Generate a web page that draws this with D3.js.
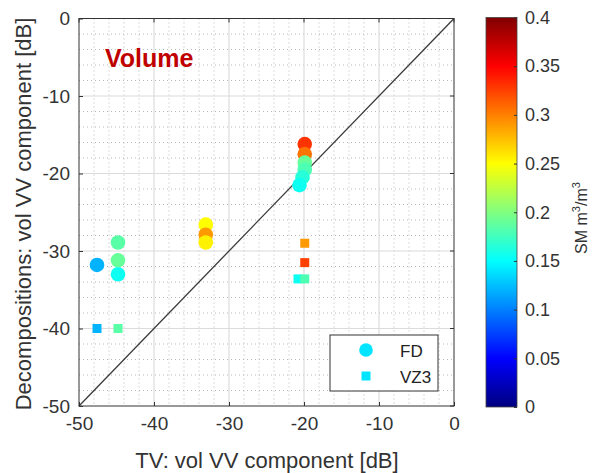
<!DOCTYPE html>
<html>
<head>
<meta charset="utf-8">
<script src="https://cdn.jsdelivr.net/npm/d3@7"></script>
<style>
  html, body { margin: 0; padding: 0; background: #fff; }
  svg { display: block; font-family: "Liberation Sans", Arial, sans-serif; }
</style>
</head>
<body>
<svg id="chart" width="596" height="473"></svg>
<script>
// FD decomposition: TV volume component vs decomposition volume component, coloured by soil moisture
const fdTV  = [-47.6, -44.8, -44.8, -44.8, -33.1, -33.1, -33.1, -19.9, -19.9, -19.9, -19.9, -20.2, -20.6];
const fdDec = [-31.8, -28.9, -31.2, -33.0, -26.6, -27.9, -28.9, -16.2, -17.5, -18.6, -19.5, -20.5, -21.5];
const fdSM  = [0.12, 0.185, 0.19, 0.155, 0.25, 0.29, 0.255, 0.33, 0.305, 0.19, 0.18, 0.165, 0.155];

// VZ3 decomposition
const vzTV  = [-47.6, -44.8, -19.9, -19.9, -20.8, -19.9];
const vzDec = [-40.0, -40.0, -29.0, -31.5, -33.6, -33.6];
const vzSM  = [0.12, 0.185, 0.29, 0.325, 0.155, 0.18];

const axisTicks = [-50, -40, -30, -20, -10, 0];
const axisTickLabels = ["-50", "-40", "-30", "-20", "-10", "0"];
const cbTicks = [0, 0.05, 0.1, 0.15, 0.2, 0.25, 0.3, 0.35, 0.4];
const cbTickLabels = ["0", "0.05", "0.1", "0.15", "0.2", "0.25", "0.3", "0.35", "0.4"];

// MATLAB-style jet colormap
function jet(t) {
  t = Math.max(0, Math.min(1, t));
  const r = Math.max(0, Math.min(1, 1.5 - Math.abs(4 * t - 3)));
  const g = Math.max(0, Math.min(1, 1.5 - Math.abs(4 * t - 2)));
  const b = Math.max(0, Math.min(1, 1.5 - Math.abs(4 * t - 1)));
  return d3.rgb(r * 255, g * 255, b * 255).toString();
}

const svg = d3.select("#chart");
const L = 79, R = 454, T = 18.5, B = 406;
const x = d3.scaleLinear().domain([-50, 0]).range([L, R]);
const y = d3.scaleLinear().domain([-50, 0]).range([B, T]);
const smScale = d3.scaleLinear().domain([0, 0.4]).range([0, 1]);
const color = v => jet(smScale(v));

// plot background
svg.append("rect").attr("x", L).attr("y", T).attr("width", R - L).attr("height", B - T).attr("fill", "#fff");

// minor dotted grid every 2 dB
const minor = d3.range(-50, 0.1, 2).filter(v => v % 10 !== 0);
svg.append("g").selectAll("line").data(minor).join("line")
  .attr("x1", d => x(d)).attr("x2", d => x(d)).attr("y1", T).attr("y2", B)
  .attr("stroke", "#b8b8b8").attr("stroke-width", 1).attr("stroke-dasharray", "1,3");
svg.append("g").selectAll("line").data(minor).join("line")
  .attr("y1", d => y(d)).attr("y2", d => y(d)).attr("x1", L).attr("x2", R)
  .attr("stroke", "#b8b8b8").attr("stroke-width", 1).attr("stroke-dasharray", "1,3");

// major grid
svg.append("g").selectAll("line").data(axisTicks.slice(1, -1)).join("line")
  .attr("x1", d => x(d)).attr("x2", d => x(d)).attr("y1", T).attr("y2", B)
  .attr("stroke", "#dcdcdc").attr("stroke-width", 1.2);
svg.append("g").selectAll("line").data(axisTicks.slice(1, -1)).join("line")
  .attr("y1", d => y(d)).attr("y2", d => y(d)).attr("x1", L).attr("x2", R)
  .attr("stroke", "#dcdcdc").attr("stroke-width", 1.2);

// 1:1 line
svg.append("line")
  .attr("x1", x(-50)).attr("y1", y(-50)).attr("x2", x(0)).attr("y2", y(0))
  .attr("stroke", "#3a3a3a").attr("stroke-width", 1.3);

// VZ3 squares
const sq = 9;
svg.append("g").selectAll("rect").data(vzTV.map((d, i) => ({tv: d, dec: vzDec[i], sm: vzSM[i]}))).join("rect")
  .attr("x", d => x(d.tv) - sq / 2).attr("y", d => y(d.dec) - sq / 2)
  .attr("width", sq).attr("height", sq)
  .attr("fill", d => color(d.sm));

// FD circles
svg.append("g").selectAll("circle").data(fdTV.map((d, i) => ({tv: d, dec: fdDec[i], sm: fdSM[i]}))).join("circle")
  .attr("cx", d => x(d.tv)).attr("cy", d => y(d.dec)).attr("r", 7.3)
  .attr("fill", d => color(d.sm));

// axes (ticks inside, MATLAB-like)
const tickLabel = d => axisTickLabels[axisTicks.indexOf(d)];
const xAxis = d3.axisBottom(x).tickValues(axisTicks).tickSizeInner(-4).tickSizeOuter(0).tickPadding(12).tickFormat(tickLabel);
const yAxis = d3.axisLeft(y).tickValues(axisTicks).tickSizeInner(-4).tickSizeOuter(0).tickPadding(9).tickFormat(tickLabel);
const gx = svg.append("g").attr("transform", `translate(0,${B})`).call(xAxis);
const gy = svg.append("g").attr("transform", `translate(${L},0)`).call(yAxis);
[gx, gy].forEach(g => {
  g.select(".domain").remove();
  g.selectAll(".tick line").attr("stroke", "#333");
  g.selectAll(".tick text").attr("fill", "#333").style("font-size", "19px");
});
gx.selectAll(".tick text").attr("dy", "0.95em").attr("y", 6);
// top/right ticks
svg.append("g").selectAll("line").data(axisTicks).join("line")
  .attr("x1", d => x(d)).attr("x2", d => x(d)).attr("y1", T).attr("y2", T + 4).attr("stroke", "#333");
svg.append("g").selectAll("line").data(axisTicks).join("line")
  .attr("y1", d => y(d)).attr("y2", d => y(d)).attr("x1", R).attr("x2", R - 4).attr("stroke", "#333");

// axes box
svg.append("rect").attr("x", L).attr("y", T).attr("width", R - L).attr("height", B - T)
  .attr("fill", "none").attr("stroke", "#333").attr("stroke-width", 1);

// axis titles
svg.append("text").attr("x", 267).attr("y", 468).attr("text-anchor", "middle")
  .attr("fill", "#333").style("font-size", "22px").text("TV: vol VV component [dB]");
svg.append("text").attr("transform", "translate(31,214) rotate(-90)").attr("text-anchor", "middle")
  .attr("fill", "#333").style("font-size", "22px").text("Decompositions: vol VV component [dB]");

// panel label
svg.append("text").attr("x", 105).attr("y", 67).attr("fill", "#c00000")
  .style("font-size", "25px").style("font-weight", "bold").text("Volume");

// legend
const lg = svg.append("g");
lg.append("rect").attr("x", 330).attr("y", 335).attr("width", 108).attr("height", 56)
  .attr("fill", "#fff").attr("stroke", "#333").attr("stroke-width", 1);
lg.append("circle").attr("cx", 366).attr("cy", 350).attr("r", 6.8).attr("fill", "#00e5ff");
lg.append("rect").attr("x", 366 - 4.5).attr("y", 376 - 4.5).attr("width", 9).attr("height", 9).attr("fill", "#00e5ff");
lg.append("text").attr("x", 400).attr("y", 357).attr("fill", "#222").style("font-size", "17px").text("FD");
lg.append("text").attr("x", 400).attr("y", 383).attr("fill", "#222").style("font-size", "17px").text("VZ3");

// colorbar
const cbL = 486, cbR = 517, cbT = 17.5, cbB = 407;
const defs = svg.append("defs");
const grad = defs.append("linearGradient").attr("id", "jetgrad").attr("x1", 0).attr("y1", 1).attr("x2", 0).attr("y2", 0);
d3.range(0, 1.0001, 0.0625).forEach(t => {
  grad.append("stop").attr("offset", t).attr("stop-color", jet(t));
});
svg.append("rect").attr("x", cbL).attr("y", cbT).attr("width", cbR - cbL).attr("height", cbB - cbT)
  .attr("fill", "url(#jetgrad)").attr("stroke", "#444").attr("stroke-width", 0.8);
const cy = d3.scaleLinear().domain([0, 0.4]).range([cbB, cbT]);
const cbAxis = d3.axisRight(cy).tickValues(cbTicks).tickSizeInner(-3).tickSizeOuter(0).tickPadding(8)
  .tickFormat((d, i) => cbTickLabels[i]);
const gc = svg.append("g").attr("transform", `translate(${cbR},0)`).call(cbAxis);
gc.select(".domain").remove();
gc.selectAll(".tick line").attr("stroke", "#333");
gc.selectAll(".tick text").attr("fill", "#333").style("font-size", "18px");

// colorbar label
const cbLabel = svg.append("text").attr("transform", "translate(587,218) rotate(-90)").attr("text-anchor", "middle")
  .attr("fill", "#333").style("font-size", "16px");
cbLabel.append("tspan").text("SM m");
cbLabel.append("tspan").attr("dy", -7).style("font-size", "11px").text("3");
cbLabel.append("tspan").attr("dy", 7).text("/m");
cbLabel.append("tspan").attr("dy", -7).style("font-size", "11px").text("3");
</script>
</body>
</html>
